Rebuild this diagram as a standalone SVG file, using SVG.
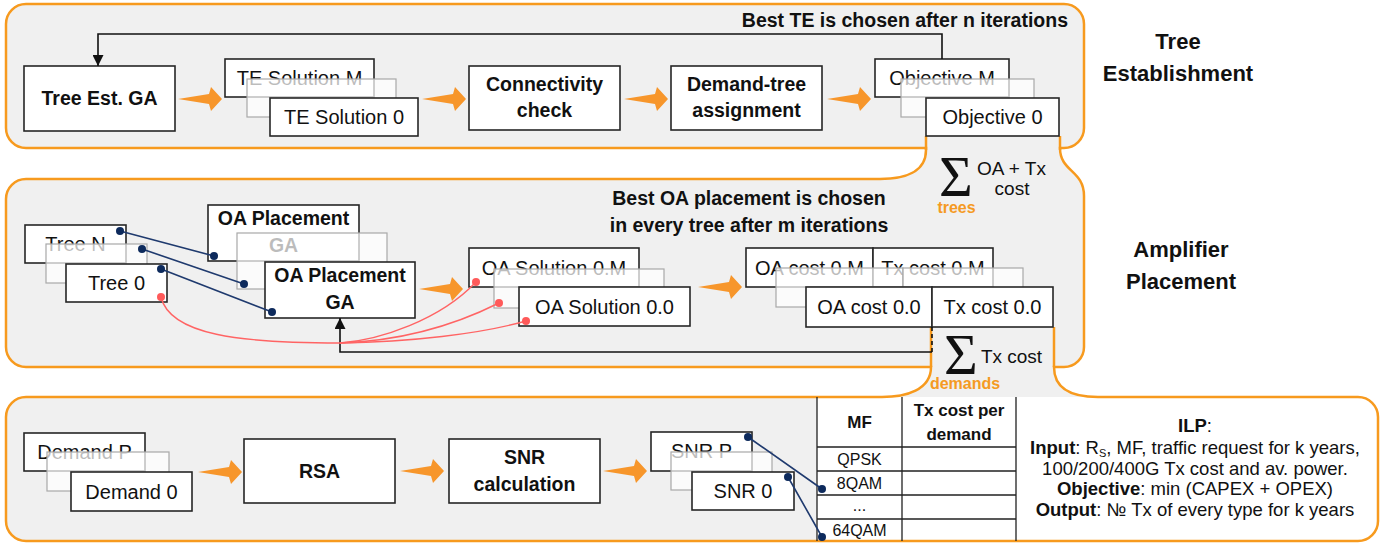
<svg xmlns="http://www.w3.org/2000/svg" width="1390" height="544" viewBox="0 0 1390 544">
<defs>
<style>
.pfill{fill:#F0F0F0;stroke:none}
.pstroke{fill:none;stroke:#F79A1E;stroke-width:2.5}
.box{fill:#fff;stroke:#262626;stroke-width:1.6}
.ghost{fill:#fff;fill-opacity:0.72;stroke:#a8a8a8;stroke-width:1.2}
.t{font-family:"Liberation Sans",Arial,sans-serif;font-size:20px;fill:#111;text-anchor:middle}
.b{font-family:"Liberation Sans",Arial,sans-serif;font-size:19.5px;font-weight:bold;fill:#111;text-anchor:middle}
.lbl{font-family:"Liberation Sans",Arial,sans-serif;font-size:22px;font-weight:bold;fill:#111;text-anchor:middle}
.tt{font-family:"Liberation Sans",Arial,sans-serif;font-size:16px;fill:#111;text-anchor:middle}
.tb{font-family:"Liberation Sans",Arial,sans-serif;font-size:17px;font-weight:bold;fill:#111;text-anchor:middle}
.ilp{font-family:"Liberation Sans",Arial,sans-serif;font-size:18.5px;fill:#111;text-anchor:middle}
.sig{font-family:"Liberation Serif","Times New Roman",serif;font-size:58px;fill:#111}
.or{font-family:"Liberation Sans",Arial,sans-serif;font-size:16px;font-weight:bold;fill:#F59A23;text-anchor:middle}
.oarrow{fill:#F7962B}
.fb{fill:none;stroke:#111;stroke-width:1.6}
.navy{stroke:#1F3A6E;stroke-width:1.6;fill:none}
.ndot{fill:#0D2A5C}
.red{stroke:#FF6464;stroke-width:1.4;fill:none}
.rdot{fill:#FF5A5A}
.grid{stroke:#222;stroke-width:1.3;fill:none}
</style>
<path id="oa" d="M0 0 L31 -5 L33 -12 L44 0 L33 12 L31 5 Z"/>
<marker id="ah" markerWidth="11" markerHeight="11" refX="10" refY="5" orient="auto" markerUnits="userSpaceOnUse" viewBox="0 0 10 10"><path d="M0 0 L10 5 L0 10 Z" fill="#111"/></marker>
</defs>

<g id="panels">
<path class="pfill" d="M26 4 H1064 A20 20 0 0 1 1084 24 V128 A20 20 0 0 1 1064 148 L1060 148 C1060 172 1084 170 1084 196 V347 A20 20 0 0 1 1064 367 L1054 367 C1054 389 1072 397 1098 397 H1358 A20 20 0 0 1 1378 417 V521 A20 20 0 0 1 1358 541 H26 A20 20 0 0 1 6 521 V417 A20 20 0 0 1 26 397 H882 C906 397 931 390 931 367 H26 A20 20 0 0 1 6 347 V199 A20 20 0 0 1 26 179 H880 C905 179 926 172 926 150 V148 H26 A20 20 0 0 1 6 128 V24 A20 20 0 0 1 26 4 Z"/>
<path fill="#fff" d="M817 397 H1358 A20 20 0 0 1 1378 417 V521 A20 20 0 0 1 1358 541 H817 Z"/>
<path class="pstroke" d="M26 4 H1064 A20 20 0 0 1 1084 24 V128 A20 20 0 0 1 1064 148 L1060 148 C1060 172 1084 170 1084 196 V347 A20 20 0 0 1 1064 367 L1054 367 C1054 389 1072 397 1098 397 H1358 A20 20 0 0 1 1378 417 V521 A20 20 0 0 1 1358 541 H26 A20 20 0 0 1 6 521 V417 A20 20 0 0 1 26 397 H882 C906 397 931 390 931 367 H26 A20 20 0 0 1 6 347 V199 A20 20 0 0 1 26 179 H880 C905 179 926 172 926 150 V148 H26 A20 20 0 0 1 6 128 V24 A20 20 0 0 1 26 4 Z"/>
<path class="pstroke" d="M926 136 V150 M1060 136 V150 M931 327 V367 M1054 327 V367"/>
</g>

<g id="labels">
<text class="b" x="1068" y="27" style="text-anchor:end">Best TE is chosen after n iterations</text>
<text class="lbl" x="1178" y="49">Tree</text>
<text class="lbl" x="1178" y="81">Establishment</text>
<text class="b" x="749" y="205">Best OA placement is chosen</text>
<text class="b" x="749" y="232">in every tree after m iterations</text>
<text class="lbl" x="1181" y="257">Amplifier</text>
<text class="lbl" x="1181" y="289">Placement</text>
</g>

<g id="tree-est-ga">
<rect class="box" x="24" y="66" width="151" height="65"/>
<text class="b" x="99.5" y="105">Tree Est. GA</text>
</g>

<g id="te-solutions">
<rect class="box" x="225" y="59" width="149" height="38"/>
<text class="t" x="299.5" y="85">TE Solution M</text>
<rect class="ghost" x="247" y="79" width="149" height="38"/>
<rect class="box" x="270" y="98" width="148" height="38"/>
<text class="t" x="344" y="124">TE Solution 0</text>
</g>

<g id="connectivity-check">
<rect class="box" x="469" y="66" width="151" height="64"/>
<text class="b" x="544.5" y="91">Connectivity</text>
<text class="b" x="544.5" y="117">check</text>
</g>

<g id="demand-tree">
<rect class="box" x="671" y="66" width="151" height="64"/>
<text class="b" x="746.5" y="91">Demand-tree</text>
<text class="b" x="746.5" y="117">assignment</text>
</g>

<g id="objectives">
<rect class="box" x="875" y="59" width="134" height="38"/>
<text class="t" x="942" y="85">Objective M</text>
<rect class="ghost" x="901" y="79" width="133" height="38"/>
<rect class="box" x="926" y="98" width="133" height="38"/>
<text class="t" x="992.5" y="124">Objective 0</text>
</g>

<g id="sum-trees">
<text class="sig" x="939" y="196">Σ</text>
<text class="t" x="1011.5" y="175" style="font-size:19px">OA + Tx</text>
<text class="t" x="1012" y="195" style="font-size:19px">cost</text>
<text class="or" x="956.5" y="213">trees</text>
</g>

<g id="trees">
<rect class="box" x="25" y="225" width="101" height="38"/>
<text class="t" x="75.5" y="251">Tree N</text>
<rect class="ghost" x="46" y="244" width="101" height="39"/>
<rect class="box" x="66" y="264" width="101" height="38"/>
<text class="t" x="116.5" y="290">Tree 0</text>
</g>

<g id="oa-placement-ga">
<rect class="box" x="208" y="205" width="151" height="56"/>
<text class="b" x="283.5" y="225">OA Placement</text>
<text class="b" x="283.5" y="252">GA</text>
<rect class="ghost" x="237" y="233" width="150" height="56"/>
<rect class="box" x="265" y="262" width="150" height="56"/>
<text class="b" x="340" y="282">OA Placement</text>
<text class="b" x="340" y="309">GA</text>
</g>

<g id="oa-solutions">
<rect class="box" x="469" y="248" width="170" height="39"/>
<text class="t" x="554" y="274.5">OA Solution 0.M</text>
<rect class="ghost" x="494" y="269" width="170" height="39"/>
<rect class="box" x="519" y="287" width="171" height="39"/>
<text class="t" x="604.5" y="313.5">OA Solution 0.0</text>
</g>

<g id="costs">
<rect class="box" x="746" y="248" width="127" height="39"/>
<rect class="box" x="873" y="248" width="120" height="39"/>
<text class="t" x="809.5" y="274.5">OA cost 0.M</text>
<text class="t" x="933" y="274.5">Tx cost 0.M</text>
<rect class="ghost" x="776" y="268" width="127" height="39"/>
<rect class="ghost" x="903" y="268" width="120" height="39"/>
<rect class="box" x="806" y="287" width="126" height="40"/>
<rect class="box" x="932" y="287" width="121" height="40"/>
<text class="t" x="869" y="314">OA cost 0.0</text>
<text class="t" x="992.5" y="314">Tx cost 0.0</text>
</g>

<g id="sum-demands">
<text class="sig" x="944" y="374">Σ</text>
<text class="t" x="1011.5" y="363" style="font-size:19px">Tx cost</text>
<text class="or" x="965" y="389">demands</text>
</g>

<g id="demands">
<rect class="box" x="24" y="433" width="121" height="38"/>
<text class="t" x="84.5" y="459">Demand P</text>
<rect class="ghost" x="47" y="452" width="122" height="39"/>
<rect class="box" x="71" y="472" width="121" height="39"/>
<text class="t" x="131.5" y="498.5">Demand 0</text>
</g>

<g id="rsa">
<rect class="box" x="244" y="439" width="151" height="64"/>
<text class="b" x="319.5" y="478">RSA</text>
</g>

<g id="snr-calculation">
<rect class="box" x="449" y="439" width="151" height="64"/>
<text class="b" x="524.5" y="464">SNR</text>
<text class="b" x="524.5" y="491">calculation</text>
</g>

<g id="snrs">
<rect class="box" x="651" y="432" width="101" height="39"/>
<text class="t" x="701.5" y="458">SNR P</text>
<rect class="ghost" x="671" y="452" width="101" height="38"/>
<rect class="box" x="692" y="472" width="102" height="38"/>
<text class="t" x="743" y="498">SNR 0</text>
</g>

<g id="mf-table">
<path class="grid" d="M817 397 V541 M902 397 V541 M1016 397 V541 M817 447 H1016 M817 471 H1016 M817 495 H1016 M817 519 H1016"/>
<text class="tb" x="859.5" y="428">MF</text>
<text class="tb" x="959" y="416">Tx cost per</text>
<text class="tb" x="959" y="440">demand</text>
<text class="tt" x="859.5" y="465">QPSK</text>
<text class="tt" x="859.5" y="489">8QAM</text>
<text class="tt" x="859.5" y="511">...</text>
<text class="tt" x="859.5" y="536">64QAM</text>
</g>

<g id="ilp">
<text class="ilp" x="1195" y="432"><tspan font-weight="bold">ILP</tspan>:</text>
<text class="ilp" x="1195" y="454"><tspan font-weight="bold">Input</tspan>: R<tspan font-size="11" dy="3">S</tspan><tspan dy="-3">, MF, traffic request for k years,</tspan></text>
<text class="ilp" x="1195" y="475">100/200/400G Tx cost and av. power.</text>
<text class="ilp" x="1195" y="495"><tspan font-weight="bold">Objective</tspan>: min (CAPEX + OPEX)</text>
<text class="ilp" x="1195" y="516"><tspan font-weight="bold">Output</tspan>: № Tx of every type for k years</text>
</g>

<g id="connectors">
<use href="#oa" class="oarrow" x="178" y="99"/>
<use href="#oa" class="oarrow" x="422" y="99"/>
<use href="#oa" class="oarrow" x="624" y="99"/>
<use href="#oa" class="oarrow" x="827" y="99"/>
<use href="#oa" class="oarrow" x="419" y="289"/>
<use href="#oa" class="oarrow" x="698" y="287"/>
<use href="#oa" class="oarrow" x="198" y="472"/>
<use href="#oa" class="oarrow" x="400" y="471"/>
<use href="#oa" class="oarrow" x="603" y="471"/>
<path class="fb" d="M942 59 V34 H98 V66" marker-end="url(#ah)"/>
<path class="fb" d="M932 327 V352" stroke-dasharray="4 3"/>
<path class="fb" d="M932 352 H340 V318" marker-end="url(#ah)"/>
<path class="navy" d="M120 231 L214 256 M142 249 L244 284 M161 269 L272 312"/>
<circle class="ndot" cx="120" cy="231" r="4"/>
<circle class="ndot" cx="142" cy="249" r="4"/>
<circle class="ndot" cx="161" cy="269" r="4"/>
<circle class="ndot" cx="214" cy="256" r="4"/>
<circle class="ndot" cx="244" cy="284" r="4"/>
<circle class="ndot" cx="272" cy="312" r="4"/>
<path class="red" d="M161 297 C170 335 240 343 340 343 C380 340 440 320 476 282"/>
<path class="red" d="M340 343 C400 341 455 325 499 303"/>
<path class="red" d="M340 343 C410 342 480 334 526 321"/>
<circle class="rdot" cx="161" cy="297" r="4"/>
<circle class="rdot" cx="476" cy="282" r="4"/>
<circle class="rdot" cx="499" cy="303" r="4"/>
<circle class="rdot" cx="526" cy="321" r="4"/>
<path class="navy" d="M748 437 L822 489 M788 477 L822 537"/>
<circle class="ndot" cx="748" cy="437" r="4"/>
<circle class="ndot" cx="788" cy="477" r="4"/>
<circle class="ndot" cx="822" cy="489" r="4"/>
<circle class="ndot" cx="822" cy="537" r="4"/>
</g>
</svg>
